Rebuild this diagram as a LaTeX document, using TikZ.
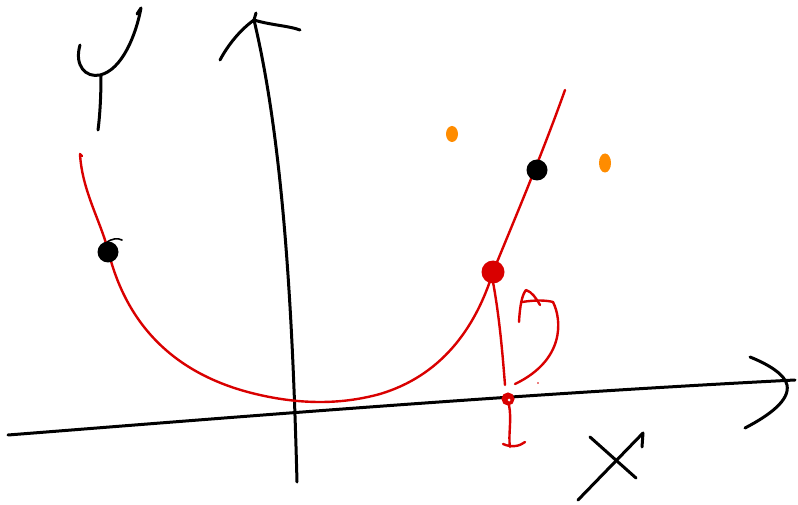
\documentclass[tikz,border=0pt]{standalone}
\begin{document}
\begin{tikzpicture}[x=1pt,y=-1pt,
  ink/.style={line width=3pt,line cap=round,line join=round,black},
  redink/.style={line width=2.4pt,line cap=round,line join=round,red!85!black},
  orangedot/.style={fill=orange!90!yellow,draw=none}]
\useasboundingbox (0,0) rectangle (798,505);
% Y letter
\draw[ink] (80,45) .. controls (74,66) and (86,78) .. (100,75)
  .. controls (122,70) and (136,35) .. (141,8) -- (137,14);
\draw[ink] (101,76) .. controls (101,95) and (100,115) .. (98,130);
% y axis
\coordinate (ytop) at (254,20);
\coordinate (ybot) at (297,482);
\draw[ink] (ybot) .. controls (293,330) and (285,150) .. (ytop);
\draw[ink] (220,60) .. controls (228,45) and (240,30) .. (ytop);
\draw[ink] (ytop) -- (256,13) (ytop) .. controls (270,25) and (290,26) .. (300,30);
% x axis
\coordinate (xleft) at (8,435);
\coordinate (xright) at (795,380);
\draw[ink] (xleft) .. controls (200,420) and (500,395) .. (xright);
\draw[ink] (750,357) .. controls (770,365) and (785,375) .. (787,385)
  .. controls (790,400) and (770,415) .. (745,428);
% X letter
\draw[ink] (590,437) -- (636,478);
\draw[ink] (578,500) -- (643,433) -- (642,447);
% red curve
\draw[redink] (82,156) -- (80,154) .. controls (82,190) and (100,220) .. (108,250)
  .. controls (125,320) and (170,375) .. (260,395)
  .. controls (300,404) and (340,405) .. (380,394)
  .. controls (440,376) and (475,330) .. (493,272)
  .. controls (510,230) and (540,160) .. (565,90);
% red vertical and t
\draw[redink] (493,282) .. controls (500,320) and (503,360) .. (505,385);
\node[circle,draw=red!85!black,fill=red!85!black,line width=2pt,minimum size=11pt,inner sep=0pt] (tdot) at (508,399) {};
\fill[white] (509,400) circle (1.5pt);
\draw[redink] (509,405) .. controls (512,420) and (508,435) .. (510,447)
  (503,444) .. controls (512,448) and (520,446) .. (525,442);
% red A/S shape
\draw[redink] (519,322) .. controls (520,305) and (522,295) .. (526,290)
  .. controls (532,292) and (536,298) .. (540,305);
\draw[redink] (522,302) .. controls (535,300) and (545,300) .. (553,302)
  .. controls (562,320) and (565,360) .. (515,384);
\fill[red!85!black] (538,383) circle (0.8pt);
% black dots
\fill[black] (108,252) circle (10.5pt);
\draw[ink,line width=1.6pt] (106,243) .. controls (112,238) and (118,238) .. (122,240);
\fill[black] (537,170) circle (10.5pt);
% red big dot
\fill[red!85!black] (493,272) circle (11.5pt);
% orange dots
\fill[orangedot] (452,134) ellipse (6pt and 8pt);
\fill[orangedot] (605,163) ellipse (6pt and 9.5pt);
\end{tikzpicture}
\end{document}
